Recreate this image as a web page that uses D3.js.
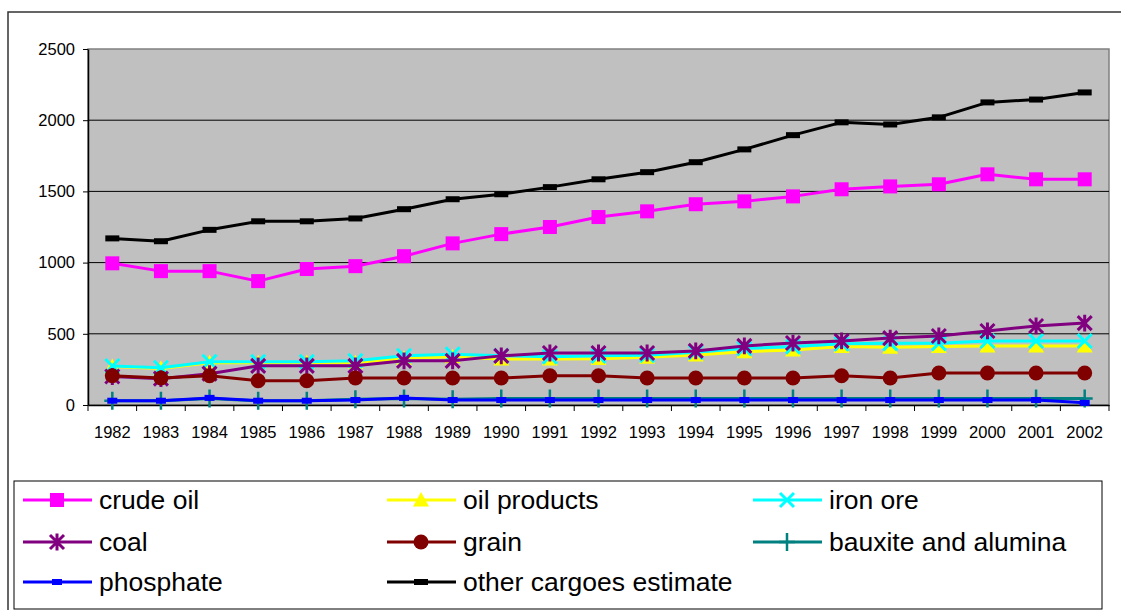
<!DOCTYPE html>
<html>
<head>
<meta charset="utf-8">
<script src="https://cdn.jsdelivr.net/npm/d3@7"></script>
<style>
  html, body { margin: 0; padding: 0; background: #fff; }
  svg { display: block; font-family: "Liberation Sans", Arial, sans-serif; }
</style>
</head>
<body>
<svg id="chart" width="1121" height="610"></svg>
<script>
// ---- data ----
const years = ["1982","1983","1984","1985","1986","1987","1988","1989","1990","1991","1992","1993","1994","1995","1996","1997","1998","1999","2000","2001","2002"];
const yTicks = [0, 500, 1000, 1500, 2000, 2500];

const crudeOil      = [995, 940, 940, 870, 955, 975, 1045, 1135, 1200, 1250, 1320, 1360, 1410, 1430, 1465, 1515, 1535, 1550, 1620, 1585, 1585];
const oilProducts   = [270, 257, 297, 297, 297, 297, 328, 339, 323, 323, 325, 335, 351, 374, 386, 410, 405, 410, 414, 414, 414];
const ironOre       = [274, 262, 304, 304, 304, 311, 346, 356, 346, 339, 345, 350, 370, 398, 410, 430, 433, 433, 449, 449, 449];
const coal          = [200, 185, 220, 275, 275, 275, 310, 310, 345, 365, 365, 365, 380, 415, 435, 450, 470, 485, 520, 555, 575];
const grain         = [205, 190, 205, 170, 170, 190, 190, 190, 190, 205, 205, 190, 190, 190, 190, 205, 190, 225, 225, 225, 225];
const bauxite       = [30, 30, 45, 30, 30, 40, 45, 40, 45, 45, 45, 45, 45, 45, 45, 45, 45, 45, 45, 45, 45];
const phosphate     = [30, 30, 50, 30, 30, 35, 50, 35, 35, 35, 35, 35, 35, 35, 35, 35, 35, 35, 35, 35, 15];
const otherCargoes  = [1170, 1150, 1230, 1290, 1290, 1310, 1375, 1445, 1480, 1530, 1585, 1635, 1705, 1795, 1895, 1985, 1970, 2020, 2125, 2145, 2195];

const seriesNames   = ["crude oil", "oil products", "iron ore", "coal", "grain", "bauxite and alumina", "phosphate", "other cargoes estimate"];
const seriesValues  = [crudeOil, oilProducts, ironOre, coal, grain, bauxite, phosphate, otherCargoes];
const seriesColors  = ["#FF00FF", "#FFFF00", "#00FFFF", "#800080", "#800000", "#008080", "#0000FF", "#000000"];
const seriesMarkers = ["square", "triangle", "x", "asterisk", "circle", "plus", "smallrect", "dash"];

// ---- layout ----
const svg = d3.select("#chart");
const plot = { left: 88, right: 1109, top: 49, bottom: 405 };

const x = d3.scaleBand().domain(years).range([plot.left, plot.right]).padding(0);
const y = d3.scaleLinear().domain([0, 2500]).range([plot.bottom, plot.top]);
const cx = d => x(d) + x.bandwidth() / 2;

// outer frame (clipped by the window on right and bottom)
svg.append("rect")
  .attr("x", 8).attr("y", 12).attr("width", 1130).attr("height", 620)
  .attr("fill", "#fff").attr("stroke", "#333").attr("stroke-width", 1.5);

// plot background
svg.append("rect")
  .attr("x", plot.left).attr("y", plot.top)
  .attr("width", plot.right - plot.left).attr("height", plot.bottom - plot.top)
  .attr("fill", "#C0C0C0").attr("stroke", "#808080").attr("stroke-width", 1.5);

// gridlines
svg.append("g").selectAll("line")
  .data(yTicks.filter(t => t > 0 && t < 2500))
  .join("line")
  .attr("x1", plot.left).attr("x2", plot.right)
  .attr("y1", d => y(d)).attr("y2", d => y(d))
  .attr("stroke", "#000").attr("stroke-width", 1);

// y axis
const yAxis = svg.append("g")
  .attr("transform", `translate(${plot.left},0)`)
  .call(d3.axisLeft(y).tickValues(yTicks).tickFormat(d3.format("d")).tickSize(5).tickPadding(8).tickSizeOuter(0));
yAxis.select(".domain").attr("stroke", "#000").attr("stroke-width", 1.5);
yAxis.selectAll(".tick line").attr("stroke", "#000");
yAxis.selectAll("text").attr("font-size", 16.5).attr("fill", "#000")
  .attr("font-family", "Liberation Sans, Arial, sans-serif");

// x axis (labels centred in bands; tick marks at band boundaries)
const xAxis = svg.append("g")
  .attr("transform", `translate(0,${plot.bottom})`)
  .call(d3.axisBottom(x).tickSize(0).tickPadding(21).tickSizeOuter(0));
xAxis.select(".domain").attr("stroke", "#000").attr("stroke-width", 1.5);
xAxis.selectAll("text").attr("font-size", 16.5).attr("fill", "#000")
  .attr("font-family", "Liberation Sans, Arial, sans-serif");
const boundaries = years.map(d => x(d)).concat([x(years[years.length - 1]) + x.bandwidth()]);
xAxis.selectAll(".bnd").data(boundaries).join("line")
  .attr("class", "bnd")
  .attr("x1", d => d).attr("x2", d => d)
  .attr("y1", 0).attr("y2", 6)
  .attr("stroke", "#000").attr("stroke-width", 1);

// ---- markers ----
function drawMarker(g, type, color, px, py, scale) {
  const s = scale || 1;
  if (type === "square") {
    const h = 7 * s;
    g.append("rect").attr("x", px - h).attr("y", py - h).attr("width", 2 * h).attr("height", 2 * h).attr("fill", color);
  } else if (type === "triangle") {
    const h = 8 * s;
    g.append("path").attr("d", `M${px},${py - h}L${px + h},${py + h * 0.8}L${px - h},${py + h * 0.8}Z`).attr("fill", color);
  } else if (type === "x") {
    const h = 7 * s;
    g.append("path").attr("d", `M${px - h},${py - h}L${px + h},${py + h}M${px - h},${py + h}L${px + h},${py - h}`)
      .attr("stroke", color).attr("stroke-width", 3).attr("fill", "none");
  } else if (type === "asterisk") {
    const h = 7 * s;
    g.append("path").attr("d", `M${px - h},${py - h}L${px + h},${py + h}M${px - h},${py + h}L${px + h},${py - h}M${px},${py - h * 1.2}L${px},${py + h * 1.2}`)
      .attr("stroke", color).attr("stroke-width", 3).attr("fill", "none");
  } else if (type === "circle") {
    g.append("circle").attr("cx", px).attr("cy", py).attr("r", 7.5 * s).attr("fill", color);
  } else if (type === "plus") {
    const w = 8 * s, h = 9 * s;
    g.append("path").attr("d", `M${px - w},${py}L${px + w},${py}M${px},${py - h}L${px},${py + h}`)
      .attr("stroke", color).attr("stroke-width", 2.5).attr("fill", "none");
  } else if (type === "smallrect") {
    g.append("rect").attr("x", px - 5 * s).attr("y", py - 3 * s).attr("width", 10 * s).attr("height", 6 * s).attr("fill", color);
  } else if (type === "dash") {
    g.append("rect").attr("x", px - 7 * s).attr("y", py - 3 * s).attr("width", 14 * s).attr("height", 6 * s).attr("fill", color);
  }
}

// ---- series ----
const line = d3.line().x((d, i) => cx(years[i])).y(d => y(d));
seriesValues.forEach((vals, k) => {
  const g = svg.append("g");
  g.append("path").attr("d", line(vals))
    .attr("fill", "none").attr("stroke", seriesColors[k]).attr("stroke-width", 3)
    .attr("stroke-linejoin", "round");
  vals.forEach((v, i) => drawMarker(g, seriesMarkers[k], seriesColors[k], cx(years[i]), y(v)));
});

// ---- legend ----
const legend = svg.append("g");
legend.append("rect")
  .attr("x", 14).attr("y", 481).attr("width", 1088).attr("height", 128)
  .attr("fill", "#fff").attr("stroke", "#000").attr("stroke-width", 1);

const colX = [23, 387, 753];
const rowY = [500, 542, 582];
seriesNames.forEach((name, k) => {
  const c = k % 3, r = Math.floor(k / 3);
  const lx = colX[c], ly = rowY[r];
  const g = legend.append("g");
  g.append("line").attr("x1", lx).attr("x2", lx + 69).attr("y1", ly).attr("y2", ly)
    .attr("stroke", seriesColors[k]).attr("stroke-width", 3);
  drawMarker(g, seriesMarkers[k], seriesColors[k], lx + 34, ly, 1);
  g.append("text").attr("x", lx + 76).attr("y", ly).attr("dy", "0.35em")
    .attr("font-size", 26.5).attr("fill", "#000").text(name);
});
</script>
</body>
</html>
